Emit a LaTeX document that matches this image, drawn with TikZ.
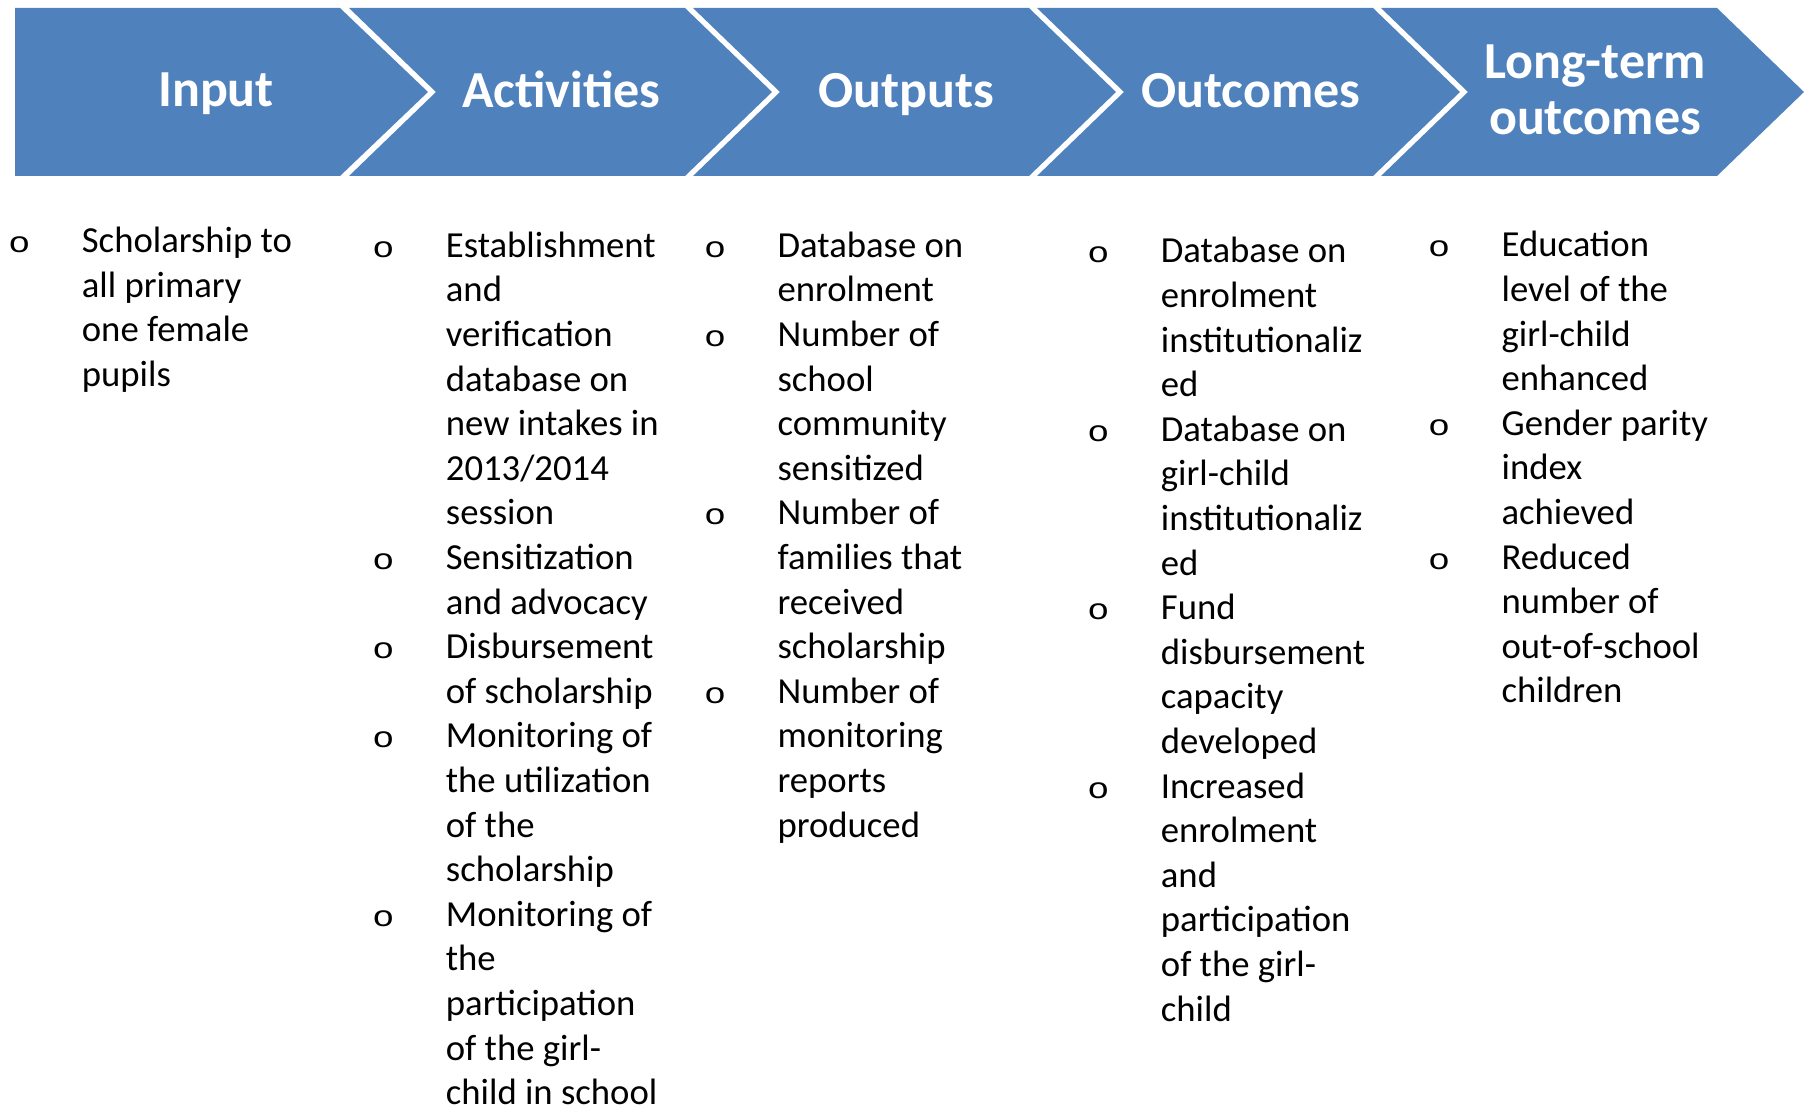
\documentclass[tikz,border=0pt]{standalone}
\usepackage{fontspec}
\setmainfont{Carlito}
\newfontfamily\bulfont{Liberation Mono}
\usepackage{array}
\usepackage{graphicx}
\definecolor{chev}{HTML}{4F81BD}
\newcommand\bul{\makebox[0pt]{\scalebox{1}[0.8]{\bulfont o}}}
\tikzset{
  chevron/.style={fill=chev, draw=none},
  head/.style={text=white, font=\bfseries\fontsize{52}{56}\selectfont, inner sep=0pt, anchor=base},
  col/.style={anchor=base west, inner sep=0pt, font=\fontsize{36.7}{44.6}\selectfont},
}
\newenvironment{blist}{\begin{tabular}[t]{@{}l@{\hspace{62.4pt}}l@{}}}{\end{tabular}}
\begin{document}
\begin{tikzpicture}[x=1pt,y=-1pt]
\useasboundingbox (0,0) rectangle (1808,1110);
% chevrons
\fill[chevron] (15,8) -- (340,8) -- (428,92) -- (340,176) -- (15,176) -- cycle;
\foreach \x in {349,693,1037,1381}
  \fill[chevron] (\x,8) -- ++(336,0) -- ++(87,84) -- ++(-87,84) -- ++(-336,0) -- ++(87,-84) -- cycle;
% headers
\node[head] (h1) at (216,106.5) {Input};
\node[head] (h2) at (561.5,107.5) {Activities};
\node[head] (h3) at (906,107.5) {Outputs};
\node[head] (h4) at (1251,107.5) {Outcomes};
\node[head] (h5) at (1595,78.3) {\begin{tabular}[t]{@{}c@{}}Long-term\\outcomes\end{tabular}};
% columns
\node[col] (c1) at (19.3,252.7) {\begin{blist}
\bul & Scholarship to\\
 & all primary\\
 & one female\\
 & pupils
\end{blist}};
\node[col] (c2) at (383.3,257.3) {\begin{blist}
\bul & Establishment\\
 & and\\
 & verification\\
 & database on\\
 & new intakes in\\
 & 2013/2014\\
 & session\\
\bul & Sensitization\\
 & and advocacy\\
\bul & Disbursement\\
 & of scholarship\\
\bul & Monitoring of\\
 & the utilization\\
 & of the\\
 & scholarship\\
\bul & Monitoring of\\
 & the\\
 & participation\\
 & of the girl-\\
 & child in school
\end{blist}};
\node[col] (c3) at (715,257.3) {\begin{blist}
\bul & Database on\\
 & enrolment\\
\bul & Number of\\
 & school\\
 & community\\
 & sensitized\\
\bul & Number of\\
 & families that\\
 & received\\
 & scholarship\\
\bul & Number of\\
 & monitoring\\
 & reports\\
 & produced
\end{blist}};
\node[col] (c4) at (1098.3,263) {\begin{blist}
\bul & Database on\\
 & enrolment\\
 & institutionaliz\\
 & ed\\
\bul & Database on\\
 & girl-child\\
 & institutionaliz\\
 & ed\\
\bul & Fund\\
 & disbursement\\
 & capacity\\
 & developed\\
\bul & Increased\\
 & enrolment\\
 & and\\
 & participation\\
 & of the girl-\\
 & child
\end{blist}};
\node[col] (c5) at (1439,257) {\begin{blist}
\bul & Education\\
 & level of the\\
 & girl-child\\
 & enhanced\\
\bul & Gender parity\\
 & index\\
 & achieved\\
\bul & Reduced\\
 & number of\\
 & out-of-school\\
 & children
\end{blist}};
\end{tikzpicture}
\end{document}
